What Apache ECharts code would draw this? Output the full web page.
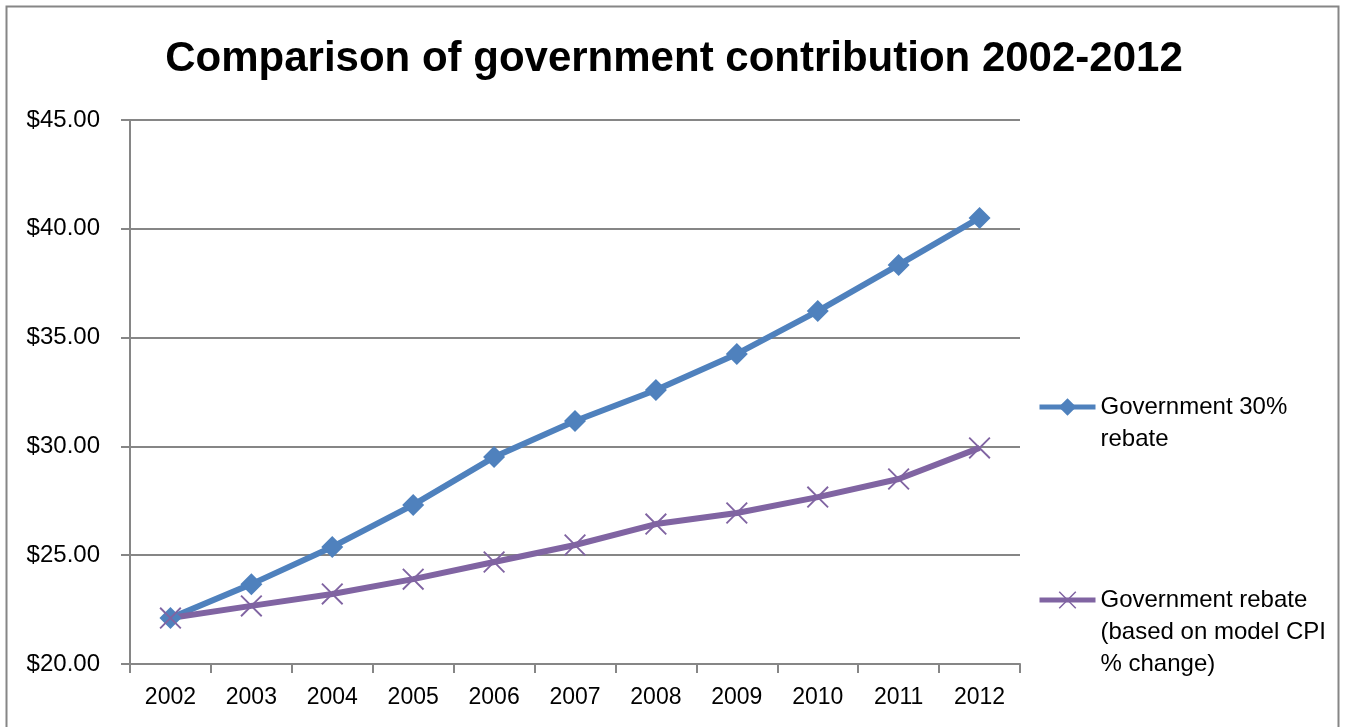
<!DOCTYPE html>
<html>
<head>
<meta charset="utf-8">
<script src="https://cdn.jsdelivr.net/npm/echarts@6/dist/echarts.min.js"></script>
<style>
  html, body { margin: 0; padding: 0; background: #fff; }
  #chart { width: 1348px; height: 727px; }
</style>
</head>
<body>
<div id="chart"></div>
<script>
const years = ['2002', '2003', '2004', '2005', '2006', '2007', '2008', '2009', '2010', '2011', '2012']
const rebate30 = [22.11, 23.67, 25.38, 27.31, 29.51, 31.17, 32.59, 34.25, 36.22, 38.34, 40.5]
const rebateCpi = [22.11, 22.67, 23.22, 23.9, 24.69, 25.47, 26.43, 26.94, 27.67, 28.5, 29.93]
const seriesNames = ['Government 30%\nrebate', 'Government rebate\n(based on model CPI\n% change)']

const FONT = '"Liberation Sans Narrow", "Liberation Sans", Arial, sans-serif'
const GRID_COLOR = '#868686'
const BLUE = '#4F81BD'
const PURPLE = '#8064A2'
// thin "x" marker like the spreadsheet one
const crossSymbol = 'path://M0,0.6L0.6,0L10,9.4L9.4,10ZM9.4,0L10,0.6L0.6,10L0,9.4Z'

// legend text is centred on the icon, so pad with blank lines on top
// to line the icon up with the first line like excel does
const padTop = name => '\n'.repeat(name.split('\n').length - 1) + name

const legendBase = {
  orient: 'vertical',
  left: 1032,
  itemWidth: 56,
  itemHeight: 22,
  lineStyle: { width: 5 },
  formatter: padTop,
  textStyle: { fontFamily: FONT, fontSize: 24, color: '#000', lineHeight: 32 }
}

const chart = echarts.init(document.getElementById('chart'))

chart.setOption({
  animation: false,
  graphic: [{
    type: 'rect',
    shape: { x: 6.5, y: 6.5, width: 1332, height: 740 },
    style: { fill: 'none', stroke: GRID_COLOR, lineWidth: 2 },
    silent: true
  }],
  title: {
    text: 'Comparison of government contribution 2002-2012',
    left: 'center',
    top: 33,
    textStyle: { fontFamily: FONT, fontWeight: 'bold', fontSize: 42, color: '#000' }
  },
  grid: { left: 130, right: 328, top: 120, bottom: 63 },
  legend: [
    { ...legendBase, top: 354, data: [seriesNames[0]] },
    { ...legendBase, top: 515, data: [seriesNames[1]] }
  ],
  xAxis: {
    type: 'category',
    data: years,
    boundaryGap: true,
    axisLine: { lineStyle: { color: GRID_COLOR, width: 2 } },
    axisTick: { show: true, length: 9, interval: 0, lineStyle: { color: GRID_COLOR, width: 2 } },
    axisLabel: { fontFamily: FONT, fontSize: 23, color: '#000', margin: 22 }
  },
  yAxis: {
    type: 'value',
    min: 20,
    max: 45,
    interval: 5,
    axisLine: { show: true, lineStyle: { color: GRID_COLOR, width: 2 } },
    axisTick: { show: true, length: 9, lineStyle: { color: GRID_COLOR, width: 2 } },
    splitLine: { lineStyle: { color: GRID_COLOR, width: 2 } },
    axisLabel: {
      fontFamily: FONT, fontSize: 24, color: '#000', margin: 30,
      formatter: v => '$' + v.toFixed(2)
    }
  },
  series: [
    {
      name: seriesNames[0],
      type: 'line',
      data: rebate30,
      symbol: 'diamond',
      symbolSize: 22,
      lineStyle: { color: BLUE, width: 6 },
      itemStyle: { color: BLUE }
    },
    {
      name: seriesNames[1],
      type: 'line',
      data: rebateCpi,
      symbol: crossSymbol,
      symbolSize: 22,
      lineStyle: { color: PURPLE, width: 6 },
      itemStyle: { color: PURPLE }
    }
  ]
})

window.addEventListener('resize', () => chart.resize())
</script>
</body>
</html>
